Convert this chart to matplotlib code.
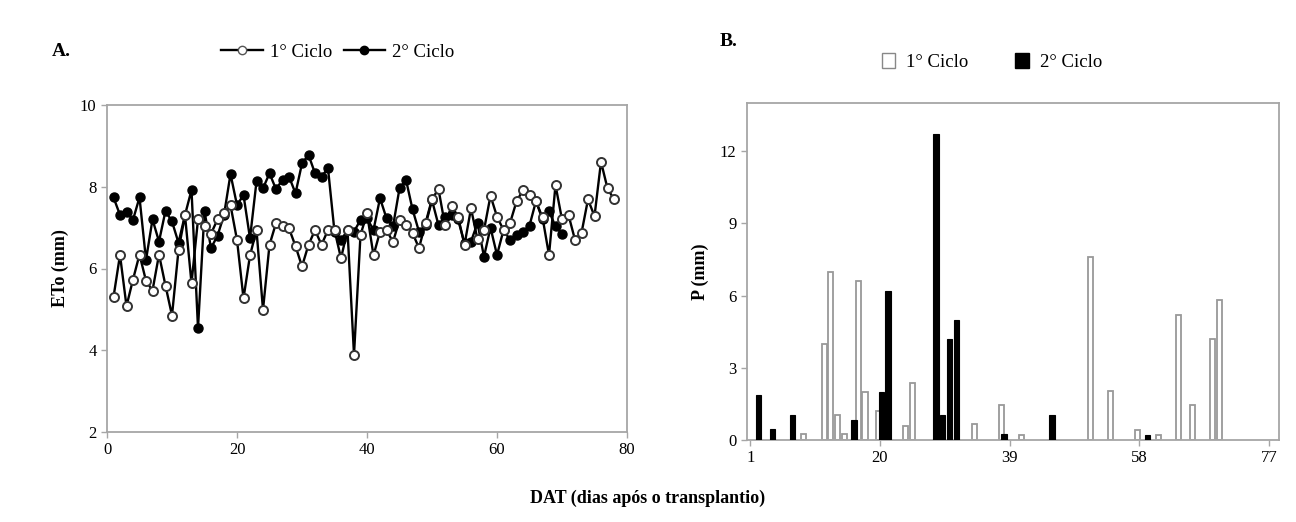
import matplotlib
matplotlib.use("Agg")
import matplotlib.pyplot as plt
from matplotlib.lines import Line2D
from matplotlib.patches import Patch
import numpy as np

plt.rcParams['font.family'] = ['Liberation Serif', 'DejaVu Serif']

# --- A. ETo per day (mm) ---
eto_c1 = [5.30, 6.33, 5.08, 5.73, 6.34, 5.70, 5.46, 6.34, 5.58, 4.85,
          6.45, 7.30, 5.64, 7.20, 7.05, 6.85, 7.20, 7.35, 7.55, 6.70,
          5.27, 6.32, 6.94, 4.99, 6.58, 7.11, 7.05, 6.98, 6.55, 6.05,
          6.58, 6.94, 6.58, 6.94, 6.94, 6.25, 6.94, 3.89, 6.82, 7.35,
          6.32, 6.90, 6.94, 6.65, 7.19, 7.06, 6.87, 6.50, 7.11, 7.70,
          7.94, 7.06, 7.53, 7.27, 6.58, 7.47, 6.71, 6.94, 7.78, 7.27,
          6.94, 7.11, 7.64, 7.92, 7.80, 7.64, 7.25, 6.33, 8.04, 7.20,
          7.31, 6.70, 6.87, 7.69, 7.28, 8.61, 7.96, 7.69]
eto_c2 = [7.74, 7.31, 7.39, 7.19, 7.74, 6.21, 7.20, 6.66, 7.41, 7.15,
          6.63, 7.31, 7.92, 4.54, 7.40, 6.50, 6.80, 7.31, 8.31, 7.55,
          7.80, 6.74, 8.13, 7.96, 8.33, 7.94, 8.17, 8.25, 7.84, 8.57,
          8.78, 8.33, 8.25, 8.45, 6.90, 6.70, 6.93, 6.90, 7.19, 7.23,
          6.94, 7.72, 7.23, 7.03, 7.96, 8.17, 7.45, 6.90, 7.06, 7.67,
          7.06, 7.25, 7.30, 7.20, 6.62, 6.66, 7.11, 6.29, 7.00, 6.33,
          6.94, 6.70, 6.82, 6.90, 7.05, 7.65, 7.20, 7.40, 7.03, 6.85]
days_c1 = np.arange(1, len(eto_c1) + 1)
days_c2 = np.arange(1, len(eto_c2) + 1)

# --- B. rainfall (mm) ---
n_days = 78
rain_c1_days = [9, 12, 13, 14, 15, 17, 18, 20, 24, 25, 34, 38, 41, 51, 54, 58, 61, 64, 66, 69, 70]
rain_c1_vals = [0.25, 4.0, 7.0, 1.05, 0.25, 6.6, 2.0, 1.2, 0.6, 2.35, 0.65, 1.45, 0.2, 7.6, 2.05, 0.4, 0.2, 5.2, 1.45, 4.2, 5.8]
rain_c2_days = [2, 4, 7, 16, 20, 21, 28, 29, 30, 31, 38, 45, 59]
rain_c2_vals = [1.85, 0.45, 1.05, 0.85, 2.0, 6.2, 12.7, 1.05, 4.2, 5.0, 0.25, 1.05, 0.2]
b_ticks = [1, 20, 39, 58, 77]

frame_col = '#a6a6a6'

fig = plt.figure(figsize=(12.96, 5.22), dpi=100)
axA = fig.add_axes([107 / 1296, 1 - 432 / 522, 520 / 1296, 327 / 522])
axB = fig.add_axes([747 / 1296, 1 - 440 / 522, 532 / 1296, 337 / 522])

# A
axA.plot(days_c1, eto_c1, color='black', lw=1.7, marker='o', ms=6.5,
         mfc='white', mec='#333333', mew=1.4, zorder=3)
axA.plot(days_c2, eto_c2, color='black', lw=1.7, marker='o', ms=6.5,
         mfc='black', mec='black', zorder=2)
axA.set_xlim(0, 80)
axA.set_ylim(2, 10)
axA.set_xticks([0, 20, 40, 60, 80])
axA.set_yticks([2, 4, 6, 8, 10])
axA.set_ylabel('ETo (mm)', fontsize=13, fontweight='bold', labelpad=8)

# B
axB.bar(np.array(rain_c1_days) - 0.2, rain_c1_vals, width=0.75, color='white',
        edgecolor='#999999', linewidth=1.3, zorder=2)
axB.bar(np.array(rain_c2_days) + 0.2, rain_c2_vals, width=0.8, color='black',
        edgecolor='black', linewidth=0.8, zorder=3)
axB.set_xlim(0.5, n_days + 0.5)
axB.set_ylim(0, 14)
axB.set_xticks(b_ticks)
axB.set_yticks([0, 3, 6, 9, 12])
axB.set_ylabel('P (mm)', fontsize=13, fontweight='bold', labelpad=8)

for ax in (axA, axB):
    for s in ax.spines.values():
        s.set_color(frame_col)
        s.set_linewidth(1.3)
    ax.tick_params(labelsize=12, color=frame_col, length=4, width=1)

# legends
hA = [Line2D([], [], color='black', lw=1.7, marker='o', ms=6, mfc='white', mec='#555555'),
      Line2D([], [], color='black', lw=1.7, marker='o', ms=6, mfc='black')]
fig.legend(hA, ['1° Ciclo', '2° Ciclo'], loc='center', bbox_to_anchor=(338 / 1296, 1 - 52 / 522),
           ncol=2, frameon=False, fontsize=13.5, handlelength=2.2, columnspacing=0.6, handletextpad=0.4)
hB = [Patch(facecolor='white', edgecolor='#888888'), Patch(facecolor='black', edgecolor='black')]
fig.legend(hB, ['1° Ciclo', '2° Ciclo'], loc='center', bbox_to_anchor=(992 / 1296, 1 - 62 / 522),
           ncol=2, frameon=False, fontsize=13.5, handlelength=0.7, handleheight=0.9,
           columnspacing=2.5, handletextpad=0.6)

fig.text(52 / 1296, 1 - 52 / 522, 'A.', fontsize=14, fontweight='bold', va='center')
fig.text(720 / 1296, 1 - 42 / 522, 'B.', fontsize=14, fontweight='bold', va='center')
fig.text(648 / 1296, 1 - 498 / 522, 'DAT (dias após o transplantio)', fontsize=13,
         fontweight='bold', ha='center', va='center')

fig.savefig('out.png', dpi=100)
